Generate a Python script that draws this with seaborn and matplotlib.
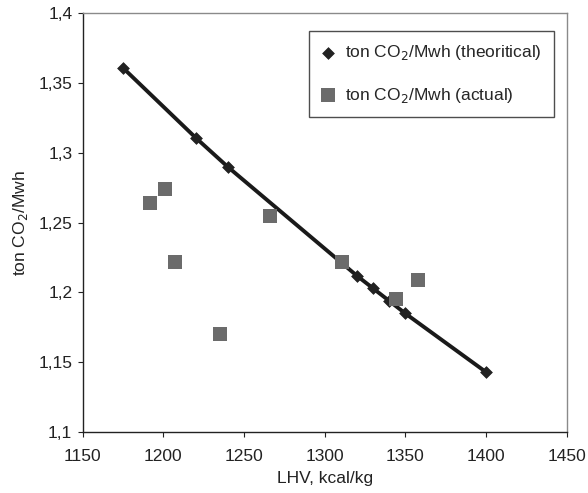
import numpy as np
import pandas as pd
import matplotlib
matplotlib.use("Agg")
import matplotlib.pyplot as plt
import seaborn as sns

# theoretical emission factor vs LHV
lhv_theo = [1175, 1220, 1240, 1320, 1330, 1340, 1350, 1400]
co2_theo = [1.361, 1.311, 1.290, 1.212, 1.203, 1.194, 1.185, 1.143]

# measured values
lhv_act = [1192, 1201, 1207, 1235, 1266, 1311, 1344, 1358]
co2_act = [1.264, 1.274, 1.222, 1.170, 1.255, 1.222, 1.195, 1.209]

x_ticks = [1150, 1200, 1250, 1300, 1350, 1400, 1450]
y_ticks = [1.1, 1.15, 1.2, 1.25, 1.3, 1.35, 1.4]
y_tick_labels = ["1,1", "1,15", "1,2", "1,25", "1,3", "1,35", "1,4"]

theo = pd.DataFrame({"lhv": lhv_theo, "co2": co2_theo})
act = pd.DataFrame({"lhv": lhv_act, "co2": co2_act})

sns.set_style("white")
plt.rcParams["font.family"] = ["Liberation Sans", "DejaVu Sans"]
fs = 12.5

fig = plt.figure(figsize=(5.88, 4.93), dpi=100)
ax = fig.add_axes([0.1406, 0.1237, 0.823, 0.849])

sns.lineplot(data=theo, x="lhv", y="co2", ax=ax, color="#1a1a1a",
             linewidth=2.8, zorder=2)
sns.scatterplot(data=theo, x="lhv", y="co2", ax=ax, marker="D", s=36,
                color="#222222", edgecolor="#222222", linewidth=0.5,
                label="ton CO$_2$/Mwh (theoritical)", zorder=3)
sns.scatterplot(data=act, x="lhv", y="co2", ax=ax, marker="s", s=92,
                color="#6b6b6b", edgecolor="#6b6b6b", linewidth=0,
                label="ton CO$_2$/Mwh (actual)", zorder=4)

ax.set_xlim(1150, 1450)
ax.set_ylim(1.1, 1.4)
ax.set_xticks(x_ticks)
ax.set_yticks(y_ticks)
ax.set_yticklabels(y_tick_labels)
ax.tick_params(axis="both", direction="out", length=3.5, width=0.8,
               labelsize=fs, colors="#222222", bottom=True, left=True, pad=4)
ax.tick_params(axis="x", pad=9)

for s in ["left", "bottom"]:
    ax.spines[s].set_color("#222222")
    ax.spines[s].set_linewidth(1.0)
for s in ["top", "right"]:
    ax.spines[s].set_color("#8a8a8a")
    ax.spines[s].set_linewidth(1.0)

ax.set_xlabel("LHV, kcal/kg", fontsize=fs, color="#222222", labelpad=5)
ax.set_ylabel("ton CO$_2$/Mwh", fontsize=fs, color="#222222", labelpad=6)

leg = ax.legend(loc="upper right", bbox_to_anchor=(0.974, 0.958),
                borderaxespad=0, fontsize=fs, frameon=True, fancybox=False,
                labelspacing=1.35, borderpad=0.7, handletextpad=0.6,
                handlelength=0.8)
leg.get_frame().set_edgecolor("#222222")
leg.get_frame().set_linewidth(1.0)

fig.savefig("out.png", dpi=100)
